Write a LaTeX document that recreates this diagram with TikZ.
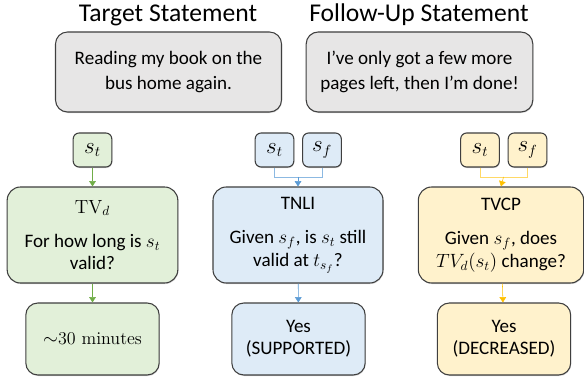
\documentclass[tikz,border=0pt]{standalone}
\usepackage{fontspec}
\setsansfont{Carlito}
\usepackage{amsmath}
\usetikzlibrary{shadows,arrows.meta}

\definecolor{edgegray}{HTML}{3F3F3F}
\definecolor{boxgray}{HTML}{E7E6E6}
\definecolor{boxgreen}{HTML}{E2F0D9}
\definecolor{boxblue}{HTML}{DEEBF7}
\definecolor{boxyellow}{HTML}{FFF2CC}
\definecolor{linegreen}{HTML}{70AD47}
\definecolor{lineblue}{HTML}{5B9BD5}
\definecolor{lineyellow}{HTML}{FFC000}

\tikzset{
  base/.style={draw=edgegray, line width=0.8pt, align=center, font=\sffamily\fontsize{14.3}{16.8}\selectfont,
    inner sep=0pt, drop shadow={shadow xshift=0.4pt, shadow yshift=-0.8pt, opacity=0.35}},
  stmtbox/.style={base, fill=boxgray, rounded corners=9pt, font=\sffamily\fontsize{14.3}{18.8}\selectfont},
  inbox/.style={base, rounded corners=4.5pt, minimum width=29pt, minimum height=25.5pt, font=\fontsize{16}{18}\selectfont},
  taskbox/.style={base, rounded corners=10pt, minimum height=72pt},
  ansbox/.style={base, rounded corners=9pt, minimum width=100pt, minimum height=54pt},
  tip/.style={-{Triangle[width=5pt,length=4pt]}},
  title/.style={font=\sffamily\fontsize{19.2}{22}\selectfont}
}

\begin{document}
\begin{tikzpicture}[x=0.75pt, y=-0.75pt]%pixel units, y downwards
\useasboundingbox (0,0) rectangle (584,377);

% statements
\node [title] (tgt_title) at (168,15) {Target Statement};
\node [title] (fol_title) at (419,15) {Follow-Up Statement};
\node [stmtbox, minimum width=169.5pt, minimum height=60pt] (tgt_stmt) at (168.5,72) {Reading my book on the\\bus home again.};
\node [stmtbox, minimum width=170pt, minimum height=60pt] (fol_stmt) at (419.5,72) {I've only got a few more\\pages left, then I'm done!};

% TV_d column
\node [inbox, fill=boxgreen] (g_st) at (92.5,150) {$s_t$};
\node [taskbox, fill=boxgreen, minimum width=128pt] (g_task) at (92.5,235) {$\mathrm{TV}_d$\\[9pt]For how long is $s_t$\\valid?};
\node [ansbox, fill=boxgreen, font=\rmfamily\fontsize{13.5}{16}\selectfont] (g_ans) at (92.5,339) {$\sim$30 minutes};
\draw [tip, linegreen] (g_st) -- (g_task);
\draw [tip, linegreen] (g_task) -- (g_ans);

% TNLI column
\node [inbox, fill=boxblue] (b_st) at (274.5,150) {$s_t$};
\node [inbox, fill=boxblue] (b_sf) at (322,150) {$s_f$};
\coordinate (b_join) at (298,177);
\node [taskbox, fill=boxblue, minimum width=127.5pt] (b_task) at (298,235) {TNLI\\[9pt]Given $s_f$, is $s_t$ still\\valid at $t_{s_f}$?};
\node [ansbox, fill=boxblue] (b_ans) at (298.5,339) {Yes\\(SUPPORTED)};
\draw [lineblue!70] (b_st.south) |- (b_join);
\draw [lineblue!70] (b_sf.south) |- (b_join);
\draw [tip, lineblue] (b_join) -- (b_task.north);
\draw [tip, lineblue] (b_task) -- (b_ans);

% TVCP column
\node [inbox, fill=boxyellow] (y_st) at (480,150) {$s_t$};
\node [inbox, fill=boxyellow] (y_sf) at (527.5,150) {$s_f$};
\coordinate (y_join) at (503.5,177);
\node [taskbox, fill=boxyellow, minimum width=124pt] (y_task) at (501,235) {TVCP\\[9pt]Given $s_f$, does\\$TV_d(s_t)$ change?};
\node [ansbox, fill=boxyellow] (y_ans) at (504,339) {Yes\\(DECREASED)};
\draw [lineyellow!60] (y_st.south) |- (y_join);
\draw [lineyellow!60] (y_sf.south) |- (y_join);
\draw [tip, lineyellow] (y_join) -- (y_task.north);
\draw [tip, lineyellow] (y_task) -- (y_ans);
\end{tikzpicture}
\end{document}
